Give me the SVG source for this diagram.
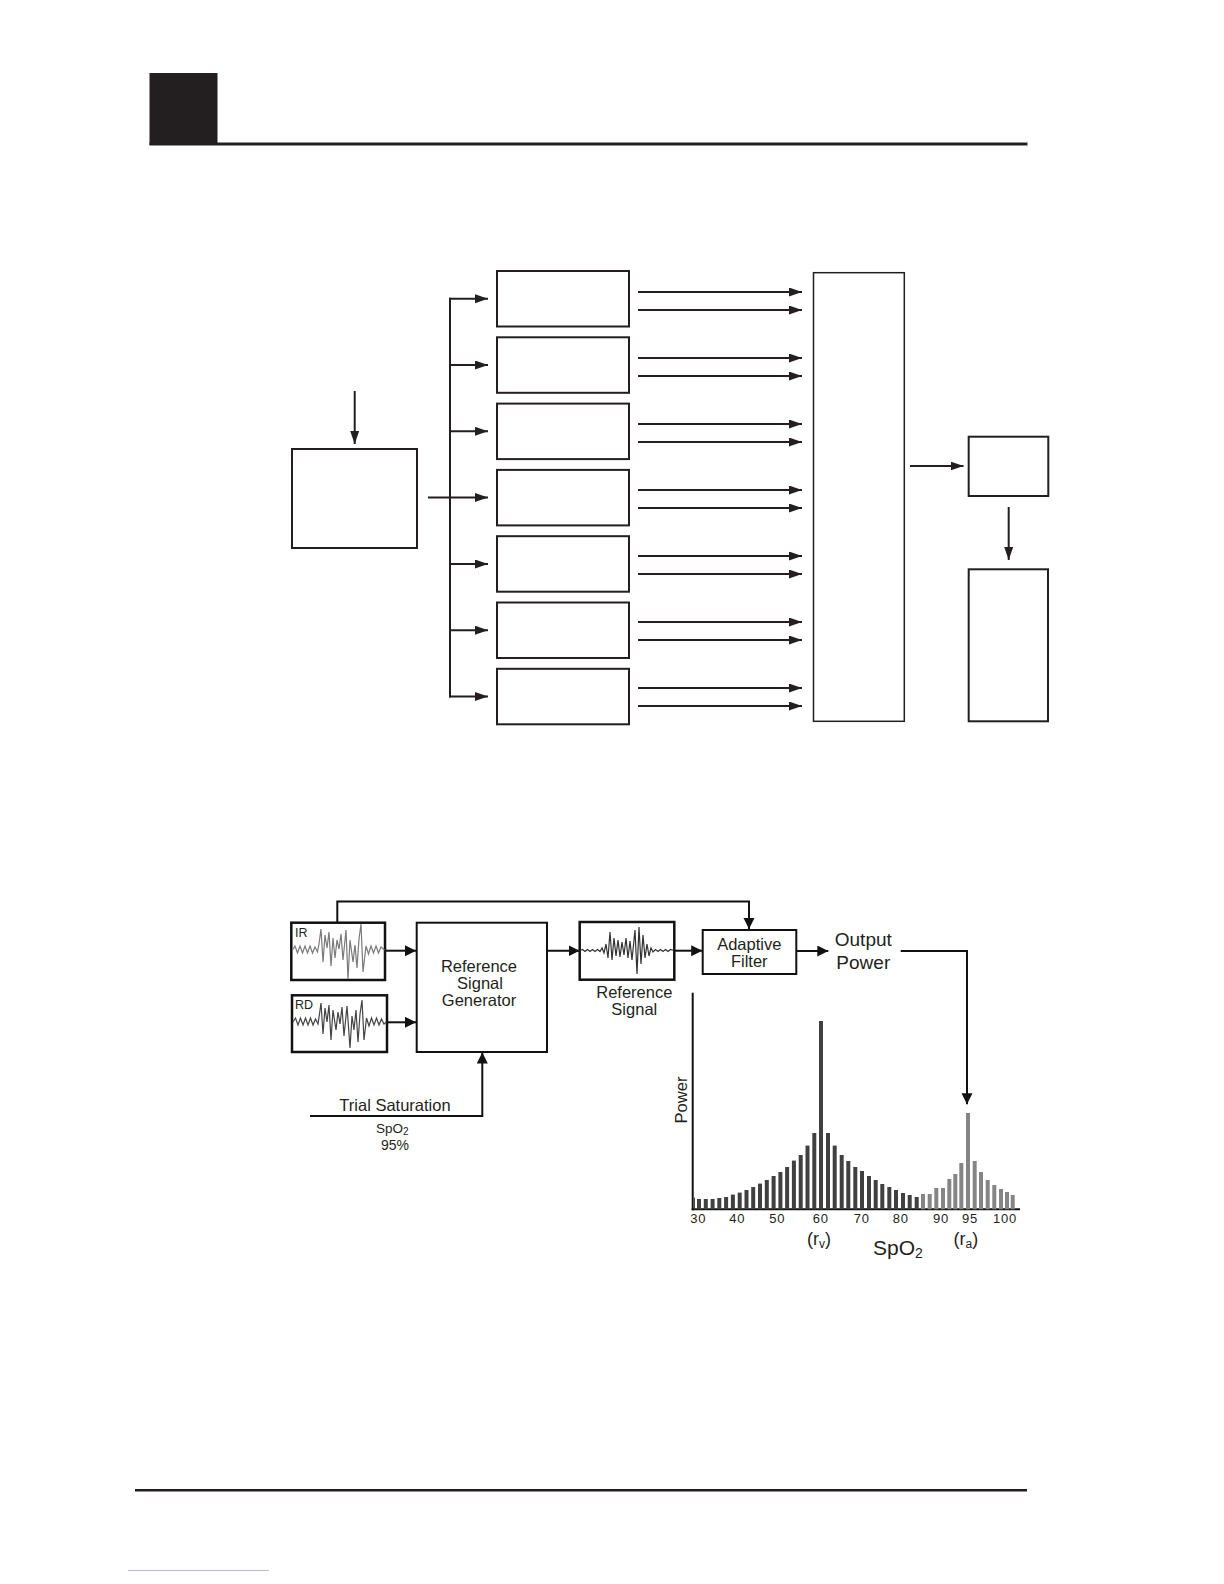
<svg xmlns="http://www.w3.org/2000/svg" width="1224" height="1584" viewBox="0 0 1224 1584">
<style>
.box{fill:#fff;stroke:#231f20;stroke-width:2}
.ln{fill:none;stroke:#231f20;stroke-width:2}
.ln2{fill:none;stroke:#111;stroke-width:2}
.t{font-family:"Liberation Sans",Arial,sans-serif;fill:#231f20;text-anchor:middle}
.ts{font-family:"Liberation Sans",Arial,sans-serif;fill:#231f20;text-anchor:start}
.tk{font-family:"Liberation Sans",Arial,sans-serif;fill:#231f20;text-anchor:middle;font-size:13px;letter-spacing:0.8px}
.dk{fill:#404040}
.gr{fill:#858585}
</style>
<defs>
<marker id="a1" markerUnits="userSpaceOnUse" markerWidth="14" markerHeight="10" refX="13" refY="4.5" orient="auto"><path d="M0,0 L13,4.5 L0,9 z" fill="#231f20"/></marker>
<marker id="a2" markerUnits="userSpaceOnUse" markerWidth="12" markerHeight="12" refX="11" refY="5.5" orient="auto"><path d="M0,0 L11,5.5 L0,11 z" fill="#111"/></marker>
</defs>
<rect fill="#fff" width="1224" height="1584"/>
<g id="page">
<rect x="149.5" y="73" width="68" height="72" fill="#231f20"/>
<rect x="149.5" y="142.5" width="878" height="3" fill="#231f20"/>
<rect x="135" y="1489" width="892" height="2.5" fill="#231f20"/>
<line x1="128" y1="1570.5" x2="269" y2="1570.5" stroke="#b8b8d8" stroke-width="1"/>
</g>
<g id="connectors1">
<line class="ln" x1="354.7" y1="391" x2="354.7" y2="444" marker-end="url(#a1)"/>
<line class="ln" x1="428" y1="497.6" x2="488" y2="497.6" marker-end="url(#a1)"/>
<line class="ln" x1="450" y1="297.8" x2="450" y2="697.5"/>
<line class="ln" x1="449" y1="298.75" x2="488" y2="298.75" marker-end="url(#a1)"/>
<line class="ln" x1="450" y1="365" x2="488" y2="365" marker-end="url(#a1)"/>
<line class="ln" x1="450" y1="431.3" x2="488" y2="431.3" marker-end="url(#a1)"/>
<line class="ln" x1="450" y1="564" x2="488" y2="564" marker-end="url(#a1)"/>
<line class="ln" x1="450" y1="630.2" x2="488" y2="630.2" marker-end="url(#a1)"/>
<line class="ln" x1="449" y1="696.5" x2="488" y2="696.5" marker-end="url(#a1)"/>
<line class="ln" x1="638" y1="292" x2="802" y2="292" marker-end="url(#a1)"/>
<line class="ln" x1="638" y1="310" x2="802" y2="310" marker-end="url(#a1)"/>
<line class="ln" x1="638" y1="358" x2="802" y2="358" marker-end="url(#a1)"/>
<line class="ln" x1="638" y1="376" x2="802" y2="376" marker-end="url(#a1)"/>
<line class="ln" x1="638" y1="424" x2="802" y2="424" marker-end="url(#a1)"/>
<line class="ln" x1="638" y1="442" x2="802" y2="442" marker-end="url(#a1)"/>
<line class="ln" x1="638" y1="490" x2="802" y2="490" marker-end="url(#a1)"/>
<line class="ln" x1="638" y1="508" x2="802" y2="508" marker-end="url(#a1)"/>
<line class="ln" x1="638" y1="556" x2="802" y2="556" marker-end="url(#a1)"/>
<line class="ln" x1="638" y1="574" x2="802" y2="574" marker-end="url(#a1)"/>
<line class="ln" x1="638" y1="622" x2="802" y2="622" marker-end="url(#a1)"/>
<line class="ln" x1="638" y1="640" x2="802" y2="640" marker-end="url(#a1)"/>
<line class="ln" x1="638" y1="688" x2="802" y2="688" marker-end="url(#a1)"/>
<line class="ln" x1="638" y1="706" x2="802" y2="706" marker-end="url(#a1)"/>
<line class="ln" x1="910" y1="466" x2="963.5" y2="466" marker-end="url(#a1)"/>
<line class="ln" x1="1008.7" y1="507" x2="1008.7" y2="560" marker-end="url(#a1)"/>
</g>
<g id="input-box"><rect class="box" x="292" y="449" width="125" height="99"/></g>
<g id="ch1"><rect class="box" x="497" y="271" width="132" height="55.5"/></g>
<g id="ch2"><rect class="box" x="497" y="337.3" width="132" height="55.5"/></g>
<g id="ch3"><rect class="box" x="497" y="403.6" width="132" height="55.5"/></g>
<g id="ch4"><rect class="box" x="497" y="469.9" width="132" height="55.5"/></g>
<g id="ch5"><rect class="box" x="497" y="536.2" width="132" height="55.5"/></g>
<g id="ch6"><rect class="box" x="497" y="602.5" width="132" height="55.5"/></g>
<g id="ch7"><rect class="box" x="497" y="668.8" width="132" height="55.5"/></g>
<g id="combiner"><rect class="box" style="stroke-width:1.5" x="813.5" y="272.7" width="90.8" height="448.6"/></g>
<g id="small-box"><rect class="box" x="968.7" y="436.7" width="79.6" height="59.3"/></g>
<g id="tall-box"><rect class="box" x="968.7" y="569.3" width="79.3" height="152"/></g>

<g id="connectors2">
<polyline class="ln2" points="337.3,922.7 337.3,901.5 749,901.5 749,929" marker-end="url(#a2)"/>
<line class="ln2" x1="385" y1="950.7" x2="416" y2="950.7" marker-end="url(#a2)"/>
<line class="ln2" x1="387" y1="1022.3" x2="416" y2="1022.3" marker-end="url(#a2)"/>
<polyline class="ln2" points="310,1116 482.3,1116 482.3,1052.5" marker-end="url(#a2)"/>
<line class="ln2" x1="547" y1="950.7" x2="579.5" y2="950.7" marker-end="url(#a2)"/>
<line class="ln2" x1="674.3" y1="950.7" x2="702.2" y2="950.7" marker-end="url(#a2)"/>
<line class="ln2" x1="796.3" y1="951" x2="828.3" y2="951" marker-end="url(#a2)"/>
<polyline class="ln2" points="900.7,951 967,951 967,1104.3" marker-end="url(#a2)"/>
</g>
<g id="ir">
<rect x="291.3" y="922.7" width="93.7" height="57.3" fill="#fff" stroke="#111" stroke-width="2.5"/>
<path fill="none" stroke="#7a7a7a" stroke-width="1.2" d="M292.5,950 L295,946 L297.5,953 L300,946 L302.5,953 L305,946 L307.5,953 L310,946 L312.5,953 L315,947 L317.5,952 L319,944 L321,929 L323,962 L325,935 L327,948 L329,932 L331,966 L333,938 L335,958 L337,940 L339,949 L341,934 L343,960 L346,930 L348,979 L350,940 L353,962 L355,945 L357,968 L359,939 L361,924 L363,972 L366,946 L368.5,954 L371,946 L373.5,953 L376,946 L378.5,953 L381,947 L384.5,950"/>
<text class="ts" x="295" y="937" style="font-size:12.5px">IR</text>
</g>
<g id="rd">
<rect x="292" y="995.3" width="95" height="56.7" fill="#fff" stroke="#111" stroke-width="2.5"/>
<path fill="none" stroke="#444" stroke-width="1.2" d="M293,1022 L295.5,1018 L298,1025 L300.5,1018 L303,1025 L305.5,1018 L308,1025 L310.5,1018 L313,1025 L315.5,1019 L318,1024 L319.5,1014 L321,1003 L323,1034 L325,1008 L327,1022 L329,1005 L331,1040 L333,1010 L336,1030 L338,1012 L340,1024 L342,1007 L344,1036 L347,1006 L350,1048 L352,1016 L354,1030 L356,1010 L358,1042 L360,1014 L362,1000 L364,1040 L366.5,1018 L369,1026 L371.5,1018 L374,1025 L376.5,1018 L379,1025 L381.5,1019 L384,1024 L386.5,1022"/>
<text class="ts" x="295" y="1009.3" style="font-size:12.5px">RD</text>
</g>
<g id="rsg">
<rect x="416.7" y="922.7" width="130.3" height="129.3" fill="#fff" stroke="#111" stroke-width="2"/>
<text class="t" x="479" y="972" style="font-size:16.5px">Reference</text>
<text class="t" x="480" y="989" style="font-size:16.5px">Signal</text>
<text class="t" x="479" y="1006" style="font-size:16.5px">Generator</text>
</g>
<g id="trial">
<text class="t" x="395" y="1110.7" style="font-size:16.5px">Trial Saturation</text>
<text class="ts" x="376" y="1132.7" style="font-size:13.5px">SpO<tspan font-size="10" dy="2">2</tspan></text>
<text class="t" x="395" y="1150" style="font-size:14px">95%</text>
</g>
<g id="ref-signal">
<rect x="579.7" y="922" width="94.6" height="57.7" fill="#fff" stroke="#111" stroke-width="2.5"/>
<path fill="none" stroke="#333" stroke-width="1.2" d="M580,950.5 L582.5,949.5 L585,951.5 L587.5,949.5 L590,951.5 L592.5,949.5 L595,951.5 L597.5,949.5 L600,951.5 L602,948 L604,953 L606,944 L608,958 L610,932 L612,960 L614,938 L616,956 L618,940 L620,957 L622,942 L624,955 L626,938 L628,958 L630,941 L632,960 L635,930 L637,974 L639,927 L641,964 L643,935 L645,958 L647,944 L649,956 L651,948 L653,952 L655.5,949.5 L658,951.5 L660.5,949.5 L663,951.5 L665.5,949.5 L668,951.5 L670.5,949.5 L674,950.5"/>
<text class="t" x="634.3" y="998.3" style="font-size:16.5px">Reference</text>
<text class="t" x="634.3" y="1015" style="font-size:16.5px">Signal</text>
</g>
<g id="adaptive-filter">
<rect x="702.7" y="930" width="93.6" height="44" fill="#fff" stroke="#111" stroke-width="2"/>
<text class="t" x="749.3" y="950" style="font-size:16.5px">Adaptive</text>
<text class="t" x="749.3" y="967.3" style="font-size:16.5px">Filter</text>
</g>
<g id="output-power">
<text class="t" x="863.3" y="945.7" style="font-size:19px">Output</text>
<text class="t" x="863.3" y="968.7" style="font-size:19px">Power</text>
</g>
<g id="chart">
<line x1="692.7" y1="992.7" x2="692.7" y2="1210.3" stroke="#111" stroke-width="2"/>
<line x1="691.7" y1="1209.3" x2="1020" y2="1209.3" stroke="#111" stroke-width="2"/>
<text class="t" transform="translate(686.5,1100) rotate(-90)" style="font-size:16.5px">Power</text>
<g class="dk">
<rect x="694" y="1197.6" width="1" height="11.7"/>
<rect x="697" y="1199" width="4" height="10.3"/>
<rect x="703.8" y="1199" width="4" height="10.3"/>
<rect x="710.6" y="1199" width="4" height="10.3"/>
<rect x="717.3" y="1198" width="4" height="11.3"/>
<rect x="724.1" y="1197" width="4" height="12.3"/>
<rect x="730.9" y="1194.6" width="4" height="14.7"/>
<rect x="737.7" y="1192.6" width="4" height="16.7"/>
<rect x="744.5" y="1190" width="4" height="19.3"/>
<rect x="751.2" y="1187" width="4" height="22.3"/>
<rect x="758" y="1183.6" width="4" height="25.7"/>
<rect x="764.8" y="1180" width="4" height="29.3"/>
<rect x="771.6" y="1176" width="4" height="33.3"/>
<rect x="778.4" y="1172" width="4" height="37.3"/>
<rect x="785.1" y="1167" width="4" height="42.3"/>
<rect x="791.9" y="1160.6" width="4" height="48.7"/>
<rect x="798.7" y="1155" width="4" height="54.3"/>
<rect x="805.5" y="1145.6" width="4" height="63.7"/>
<rect x="812.3" y="1133" width="4" height="76.3"/>
<rect x="819" y="1021" width="4" height="188.3"/>
<rect x="826" y="1133" width="4" height="76.3"/>
<rect x="832.7" y="1145.6" width="4" height="63.7"/>
<rect x="839.7" y="1155" width="4" height="54.3"/>
<rect x="846.3" y="1161" width="4" height="48.3"/>
<rect x="853.3" y="1167" width="4" height="42.3"/>
<rect x="860" y="1171" width="4" height="38.3"/>
<rect x="867" y="1176" width="4" height="33.3"/>
<rect x="873.7" y="1180" width="4" height="29.3"/>
<rect x="880.3" y="1184" width="4" height="25.3"/>
<rect x="887.3" y="1187" width="4" height="22.3"/>
<rect x="894" y="1190" width="4" height="19.3"/>
<rect x="901" y="1193" width="4" height="16.3"/>
<rect x="907.7" y="1195" width="4" height="14.3"/>
<rect x="914.7" y="1197" width="4" height="12.3"/>
</g>
<g class="gr">
<rect x="921" y="1194" width="4" height="15.3"/>
<rect x="927.7" y="1194" width="4" height="15.3"/>
<rect x="934.3" y="1188" width="4" height="21.3"/>
<rect x="941" y="1188" width="4" height="21.3"/>
<rect x="947.3" y="1179" width="4" height="30.3"/>
<rect x="953.3" y="1174" width="4" height="35.3"/>
<rect x="959.3" y="1163" width="4" height="46.3"/>
<rect x="966" y="1113" width="4" height="96.3"/>
<rect x="972.7" y="1161" width="4" height="48.3"/>
<rect x="979" y="1172" width="4" height="37.3"/>
<rect x="985.7" y="1180" width="4" height="29.3"/>
<rect x="992.3" y="1185" width="4" height="24.3"/>
<rect x="999" y="1189" width="4" height="20.3"/>
<rect x="1005" y="1192" width="4" height="17.3"/>
<rect x="1010.7" y="1195" width="4" height="14.3"/>
</g>
<text class="tk" x="698.3" y="1223.3">30</text>
<text class="tk" x="737.3" y="1223.3">40</text>
<text class="tk" x="777.3" y="1223.3">50</text>
<text class="tk" x="820.7" y="1223.3">60</text>
<text class="tk" x="861.7" y="1223.3">70</text>
<text class="tk" x="900.7" y="1223.3">80</text>
<text class="tk" x="941" y="1223.3">90</text>
<text class="tk" x="970" y="1223.3">95</text>
<text class="tk" x="1005" y="1223.3">100</text>
<text class="ts" x="807" y="1245" style="font-size:18px">(r<tspan font-size="12" dy="3">v</tspan><tspan dy="-3">)</tspan></text>
<text class="ts" x="953.5" y="1245" style="font-size:18px">(r<tspan font-size="12" dy="3">a</tspan><tspan dy="-3">)</tspan></text>
<text class="ts" x="873" y="1255" style="font-size:21px">SpO<tspan font-size="14" dy="3">2</tspan></text>
</g>
</svg>
